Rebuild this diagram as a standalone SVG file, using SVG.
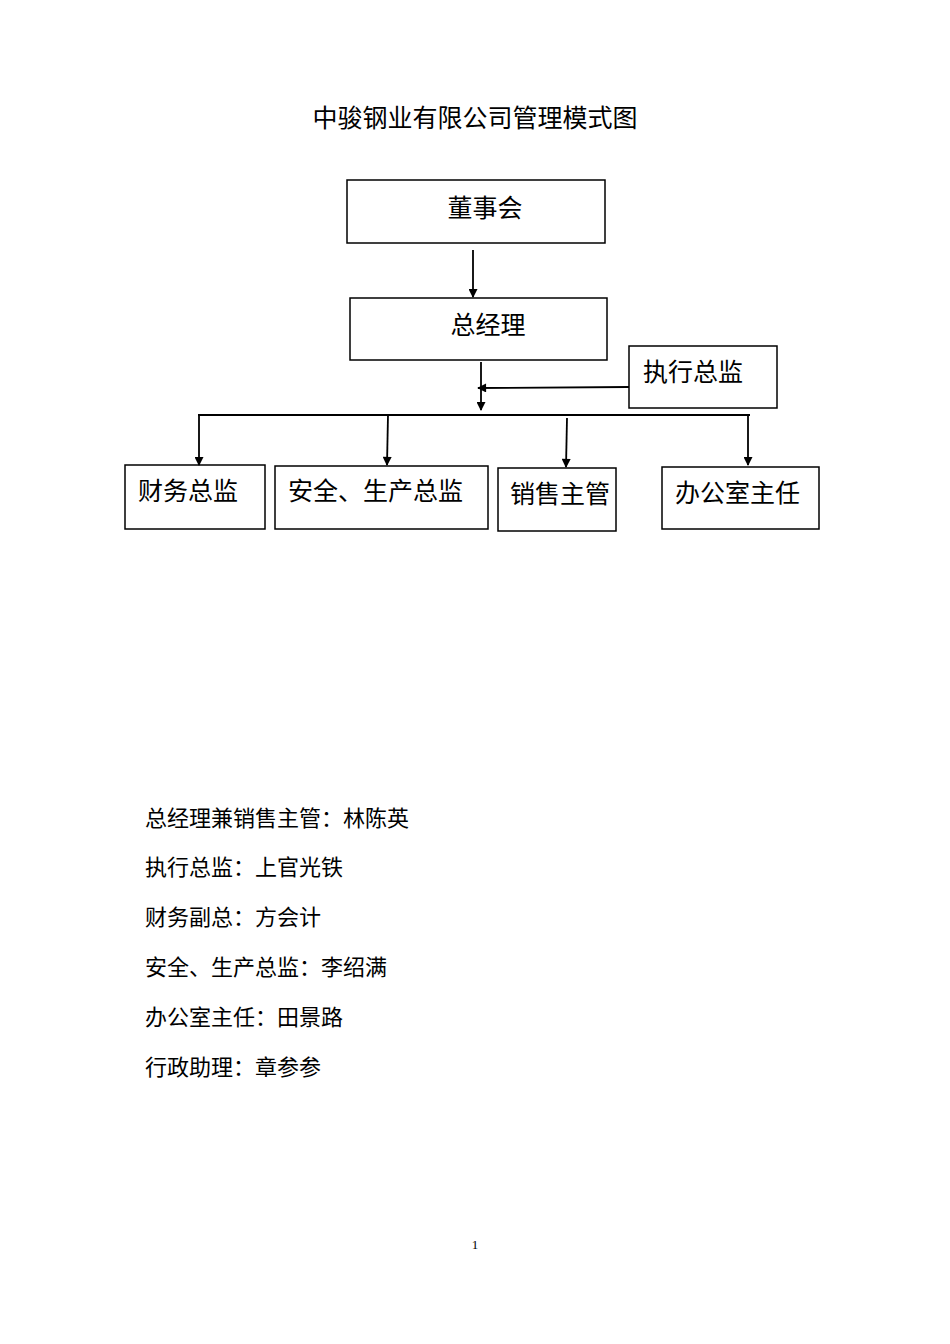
<svg xmlns="http://www.w3.org/2000/svg" width="950" height="1344" viewBox="0 0 950 1344">
<style>
text{font-family:"Liberation Serif","Noto Sans CJK SC",serif;fill:#000}
.n{font-size:25px}
.b{fill:#fff;stroke:#000;stroke-width:1.5}
.c line{stroke:#000;stroke-width:1.8}
.l{font-size:22px}
</style>
<defs><marker id="a" viewBox="0 0 10 10" refX="9" refY="5" markerWidth="10" markerHeight="9" orient="auto" markerUnits="userSpaceOnUse"><path d="M0,0L10,5L0,10z"/></marker></defs>
<rect width="950" height="1344" fill="#fff"/>
<text x="475" y="127" font-size="25" text-anchor="middle">中骏钢业有限公司管理模式图</text>
<g id="n1"><rect class="b" x="347" y="180" width="258" height="63"/><text class="n" x="485" y="217" text-anchor="middle">董事会</text></g>
<g id="n2"><rect class="b" x="350" y="298" width="257" height="62"/><text class="n" x="488" y="334" text-anchor="middle">总经理</text></g>
<g id="n3"><rect class="b" x="629" y="346" width="148" height="62"/><text class="n" x="643" y="381">执行总监</text></g>
<g id="n4"><rect class="b" x="125" y="465" width="140" height="64"/><text class="n" x="138" y="500">财务总监</text></g>
<g id="n5"><rect class="b" x="275" y="466" width="213" height="63"/><text class="n" x="288" y="500">安全、生产总监</text></g>
<g id="n6"><rect class="b" x="498" y="468" width="118" height="63"/><text class="n" x="510" y="503">销售主管</text></g>
<g id="n7"><rect class="b" x="662" y="467" width="157" height="62"/><text class="n" x="675" y="502">办公室主任</text></g>
<g class="c">
<line x1="473" y1="250" x2="473" y2="297" marker-end="url(#a)"/>
<line x1="481" y1="362" x2="481" y2="410" marker-end="url(#a)"/>
<line x1="629" y1="387" x2="478" y2="388" marker-end="url(#a)"/>
<line x1="198" y1="415" x2="750" y2="415"/>
<line x1="199" y1="415" x2="199" y2="465" marker-end="url(#a)"/>
<line x1="388" y1="415" x2="387" y2="465" marker-end="url(#a)"/>
<line x1="567" y1="418" x2="566" y2="467" marker-end="url(#a)"/>
<line x1="748" y1="415" x2="748" y2="465" marker-end="url(#a)"/>
</g>
<text class="l" x="145" y="826">总经理兼销售主管：林陈英</text>
<text class="l" x="145" y="875">执行总监：上官光铁</text>
<text class="l" x="145" y="925">财务副总：方会计</text>
<text class="l" x="145" y="975">安全、生产总监：李绍满</text>
<text class="l" x="145" y="1025">办公室主任：田景路</text>
<text class="l" x="145" y="1075">行政助理：章参参</text>
<text x="475" y="1249" font-size="13" text-anchor="middle">1</text>
</svg>
